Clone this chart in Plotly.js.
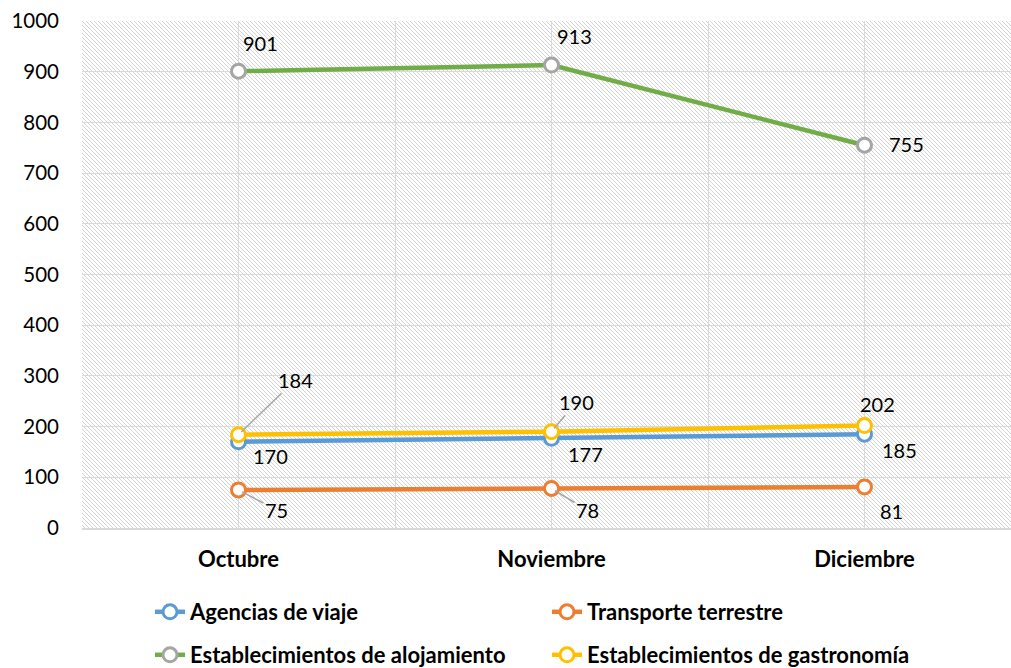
<!DOCTYPE html>
<html>
<head>
<meta charset="utf-8">
<script src="https://cdn.plot.ly/plotly-3.0.1.min.js"></script>
<style>
  html, body { margin: 0; padding: 0; background: #ffffff; }
  #wrap { position: relative; width: 1011px; height: 668px; overflow: hidden; }
  #hatch { position: absolute; z-index: 0;
    background-image: url("data:image/svg+xml,%3Csvg xmlns='http://www.w3.org/2000/svg' width='4' height='4' shape-rendering='crispEdges'%3E%3Cg fill='%23d4d4d4'%3E%3Crect x='0' y='0' width='1' height='1'/%3E%3Crect x='1' y='1' width='1' height='1'/%3E%3Crect x='2' y='2' width='1' height='1'/%3E%3Crect x='3' y='3' width='1' height='1'/%3E%3C/g%3E%3C/svg%3E");
    background-repeat: repeat; }
  #chart { position: absolute; left: 0; top: 0; width: 1011px; height: 668px; z-index: 1; }
</style>
</head>
<body>
<div id="wrap">
  <div id="hatch"></div>
  <div id="chart"></div>
</div>
<script>
// ---- data ----
const categories = ["Octubre", "Noviembre", "Diciembre"];
const seriesNames = ["Agencias de viaje", "Transporte terrestre", "Establecimientos de alojamiento", "Establecimientos de gastronomía"];
const agencias = [170, 177, 185];
const transporte = [75, 78, 81];
const alojamiento = [901, 913, 755];
const gastronomia = [184, 190, 202];
const yTicks = [0, 100, 200, 300, 400, 500, 600, 700, 800, 900, 1000];

// ---- styling ----
const FONT = "Lato, 'DejaVu Sans', sans-serif";
const lineColors = ["#5B9BD5", "#ED7D31", "#70AD47", "#FFC000"];
const markerColors = ["#5B9BD5", "#ED7D31", "#A5A5A5", "#FFC000"];
const legendIds = ["legend", "legend", "legend2", "legend2"];
// label offsets in px [dx, dy(down), leader]
const labelStyle = [
  [[32, 14, false], [34, 16, false], [35, 16, false]],
  [[38, 20, true], [36, 22, true], [27, 24, false]],
  [[22, -28, false], [23, -29, false], [42, -1, false]],
  [[57, -55, true], [25, -30, true], [13, -22, false]]
];

const values = [agencias, transporte, alojamiento, gastronomia];
const xIdx = categories.map((_, i) => i);

const plotL = 82, plotT = 21, plotW = 929, plotH = 507;
const catPx = 313;
const xMax = -0.5 + plotW / catPx;

const traces = [0, 1, 2, 3].map(k => ({
  type: "scatter",
  mode: "lines+markers",
  name: seriesNames[k],
  x: xIdx,
  y: values[k],
  legend: legendIds[k],
  line: { color: lineColors[k], width: 4.5 },
  marker: { size: 14, color: "#ffffff", line: { color: markerColors[k], width: 3 } },
  hoverinfo: "skip"
}));

const annotations = [];
values.forEach((vals, k) => {
  vals.forEach((v, i) => {
    const [dx, dy, leader] = labelStyle[k][i];
    if (leader) {
      annotations.push({
        x: xIdx[i], y: v, xref: "x", yref: "y",
        text: String(v), showarrow: true, arrowhead: 0, arrowwidth: 1.5,
        arrowcolor: "#A6A6A6", ax: dx, ay: dy, standoff: 4,
        font: { family: FONT, size: 20, color: "#000000" }
      });
    } else {
      annotations.push({
        x: xIdx[i], y: v, xref: "x", yref: "y",
        text: String(v), showarrow: false, xshift: dx, yshift: -dy,
        font: { family: FONT, size: 20, color: "#000000" }
      });
    }
  });
});

const gridVals = [];
const gridText = [];
for (let t = -0.5; t <= 2.5 + 1e-9; t += 0.5) {
  gridVals.push(t);
  const idx = Math.round(t);
  gridText.push(Math.abs(t - idx) < 1e-9 && idx >= 0 && idx < categories.length ? categories[idx] : "");
}

const layout = {
  width: 1011, height: 668,
  margin: { l: plotL, t: plotT, r: 1011 - plotL - plotW, b: 668 - plotT - plotH, pad: 0, autoexpand: false },
  paper_bgcolor: "rgba(0,0,0,0)",
  plot_bgcolor: "rgba(0,0,0,0)",
  font: { family: FONT, size: 20, color: "#000000" },
  showlegend: true,
  xaxis: {
    type: "linear", range: [-0.5, xMax], fixedrange: true,
    tickmode: "array", tickvals: gridVals, ticktext: gridText,
    showgrid: true, gridcolor: "#D9D9D9", gridwidth: 1,
    zeroline: false, showline: true, linecolor: "#D9D9D9", linewidth: 1.5,
    ticks: "", ticklabelstandoff: 11,
    tickfont: { family: FONT, size: 22, color: "#000000", weight: "bold" }
  },
  yaxis: {
    range: [0, 1000], fixedrange: true,
    tickmode: "array", tickvals: yTicks, ticktext: yTicks.map(String),
    showgrid: true, gridcolor: "#D9D9D9", gridwidth: 1,
    zeroline: false, showline: false, ticks: "", ticklabelstandoff: 22,
    tickfont: { family: FONT, size: 20.5, color: "#000000" }
  },
  legend: {
    orientation: "h", x: (150 - plotL) / plotW, xanchor: "left",
    y: (plotT + plotH - 612) / plotH, yanchor: "middle",
    entrywidth: 352, entrywidthmode: "pixels",
    font: { family: FONT, size: 22, color: "#000000", weight: "bold" },
    bgcolor: "rgba(0,0,0,0)", traceorder: "normal"
  },
  legend2: {
    orientation: "h", x: (150 - plotL) / plotW, xanchor: "left",
    y: (plotT + plotH - 655) / plotH, yanchor: "middle",
    entrywidth: 352, entrywidthmode: "pixels",
    font: { family: FONT, size: 22, color: "#000000", weight: "bold" },
    bgcolor: "rgba(0,0,0,0)", traceorder: "normal"
  },
  annotations: annotations
};

Plotly.newPlot("chart", traces, layout, { displayModeBar: false, staticPlot: true }).then(gd => {
  const s = gd._fullLayout._size;
  const h = document.getElementById("hatch");
  h.style.left = s.l + "px";
  h.style.top = s.t + "px";
  h.style.width = s.w + "px";
  h.style.height = s.h + "px";
});
</script>
</body>
</html>
